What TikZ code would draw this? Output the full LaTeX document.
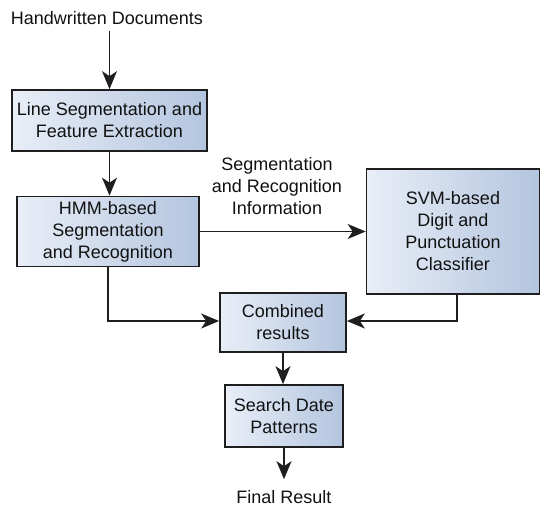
\documentclass[tikz,border=0pt]{standalone}
\usepackage{fontspec}
\setmainfont{Liberation Sans}
\usetikzlibrary{arrows.meta,positioning,calc}
\definecolor{fg}{HTML}{111111}
\definecolor{stroke}{HTML}{1E1E1E}
\definecolor{surfl}{HTML}{E9EEF7}
\definecolor{surfr}{HTML}{B3C5DF}

\begin{document}
\begin{tikzpicture}[
  x=1pt,y=-1pt,
  font=\fontsize{18}{22}\selectfont,>={Stealth[length=18pt,width=15pt,inset=5pt]},
  every node/.append style={text=fg},
  stage/.style={draw=stroke, line width=1.7pt, left color=surfl, right color=surfr, align=center, inner sep=0pt},
  lbl/.style={align=center, inner sep=0pt},
  flow/.style={->, draw=stroke, line width=1.7pt},
]
\useasboundingbox (0,0) rectangle (542,508);
% input and output
\node[lbl] (docs) at (107,18) {Handwritten Documents};
\node[lbl] (final) at (284,497) {Final Result};
% processing stages
\node[stage, minimum width=195pt, minimum height=61pt] (lsfe) at (109.5,120.5)
  {Line Segmentation and\\Feature Extraction};
\node[stage, minimum width=182pt, minimum height=70pt] (hmm) at (108,231.5)
  {HMM-based\\Segmentation\\and Recognition};
\node[stage, minimum width=173pt, minimum height=125pt] (svm) at (453,231.5)
  {SVM-based\\Digit and\\Punctuation\\Classifier};
\node[stage, minimum width=126pt, minimum height=59pt] (comb) at (283,322.5)
  {Combined\\results};
\node[stage, minimum width=118pt, minimum height=62pt] (search) at (284,416)
  {Search Date\\Patterns};
% edge label
\node[lbl] (info) at (277,186) {Segmentation\\and Recognition\\Information};
% flows
\draw[flow] ([yshift=-6pt]docs.south -| lsfe.north) -- (lsfe.north);
\draw[flow] (lsfe.south) -- (lsfe.south |- hmm.north);
\draw[flow] (hmm.east) -- (svm.west);
\draw[flow] (hmm.south) |- ([yshift=1.5pt]comb.west);
\draw[flow] ([xshift=4pt]svm.south) |- ([yshift=1.5pt]comb.east);
\draw[flow] (comb.south) -- (comb.south |- search.north);
\draw[flow] (search.south) -- ([yshift=11pt]search.south |- final.north);
\end{tikzpicture}
\end{document}
